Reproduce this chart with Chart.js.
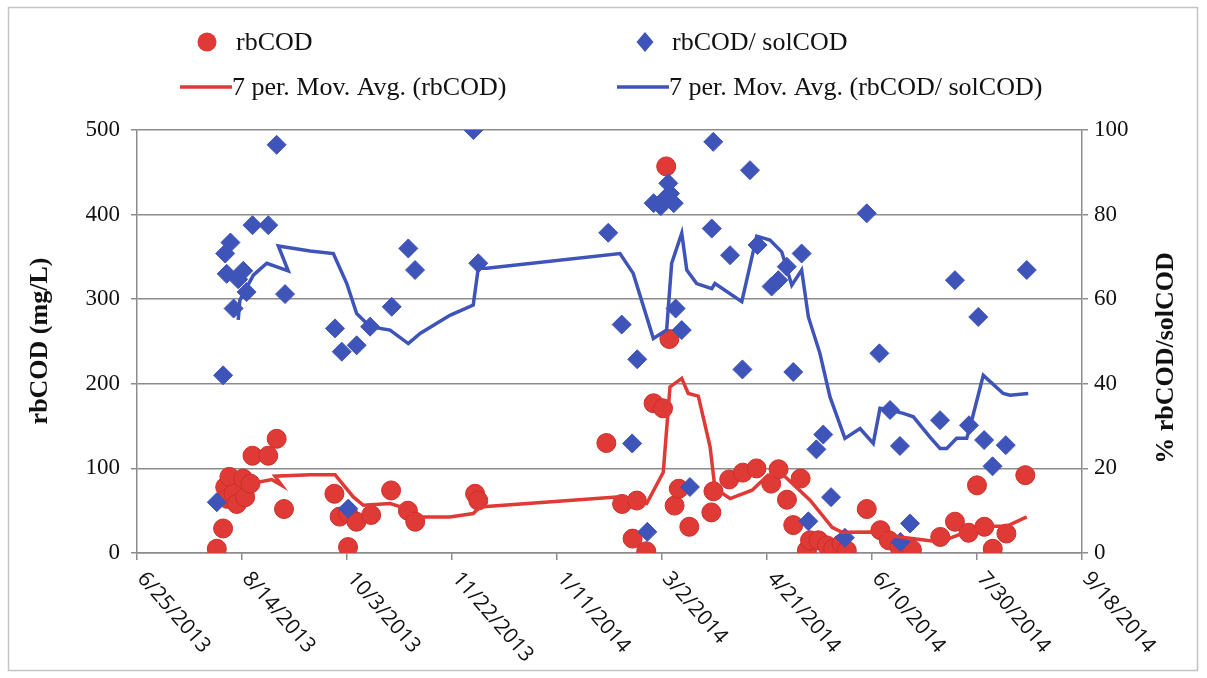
<!DOCTYPE html>
<html>
<head>
<meta charset="utf-8">
<script src="https://cdn.jsdelivr.net/npm/chart.js@4.4.0/dist/chart.umd.min.js"></script>
<style>
html, body { margin: 0; padding: 0; background: #fff; }
</style>
</head>
<body>
<canvas id="graph" width="1207" height="678"></canvas>
<script>
// days after 6/25/2013
var startDate = Date.UTC(2013, 5, 25);
var xTicks = [0, 50, 100, 150, 200, 250, 300, 350, 400, 450];

// rbCOD (mg/L)
var rbDays = [38, 41, 42, 43, 44, 46, 47.5, 50.5, 51.5, 54, 55, 62.5, 66.5, 70,
    94, 96.5, 100.5, 100.5, 104.5, 111.5, 121, 129, 132.5,
    161, 162.5,
    223.5, 231, 236, 238, 242.5, 246, 250.5, 252, 253.5, 256, 258, 263, 273.5, 274.5,
    282, 288.5, 295, 302, 305.5, 309.5, 312.5, 316,
    319, 320.5, 324.5, 328.5, 331.5, 335.5, 338,
    347.5, 354, 358, 363, 369, 382.5, 389.5, 396, 400, 403.5, 407.5, 414, 423];
var rbValues = [5, 29, 78, 64, 90, 70, 58, 88, 66, 82, 115, 115, 135, 52,
    70, 43, 47, 7, 37, 45, 74, 50, 37,
    70, 62,
    130, 58, 17, 62, 2, 177, 171, 457, 253, 56, 76, 31, 48, 73,
    87, 95, 100, 82, 99, 63, 33, 88,
    3, 15, 15, 9, 5, 11, 3,
    52, 27, 15, 7, 4, 19, 37, 24, 80, 31, 5, 23, 92];

// rbCOD/ solCOD (%)
var ratioDays = [38, 41, 42, 42.7, 44.5, 46, 48.2, 50.6, 52.2, 55, 62.5, 66.5, 70.5,
    94.3, 97.5, 100.6, 104.6, 111, 121.3, 129.2, 132.4,
    160.2, 162.5,
    224.4, 230.8, 235.8, 238.2, 243, 246, 249.4, 251.4, 253, 253.8, 255.6, 256.5, 259.4, 263.3,
    273.7, 274.4, 282.4, 288.3, 291.9, 295.5, 302.2, 305.4, 309.4, 312.5, 316.5,
    319.7, 323.5, 326.8, 330.5, 337.1, 347.5, 353.5, 358.6, 363.3, 363.5, 368.1,
    382.4, 389.5, 396.2, 400.6, 403.4, 407.4, 413.7, 423.7];
var ratioValues = [12, 42, 70.8, 66, 73.4, 57.8, 64.7, 66.7, 61.7, 77.5, 77.5, 96.5, 61.2,
    53.1, 47.6, 10.5, 49.1, 53.5, 58.2, 72, 66.9,
    100, 68.5,
    75.7, 54, 25.9, 45.8, 5, 82.7, 82, 83.8, 87.4, 85, 82.7, 57.8, 52.7, 15.6,
    76.7, 97.2, 70.4, 43.4, 90.5, 72.8, 63, 64.5, 67.7, 42.8, 70.8,
    7.5, 24.5, 28, 13.2, 3.6, 80.3, 47.2, 33.8, 25.3, 2.6, 7,
    31.4, 64.5, 30.2, 55.8, 26.7, 20.5, 25.5, 66.9];

// 7 per. Mov. Avg. (rbCOD)
var rbAvgDays = [50.5, 55.2, 64.1, 68.9, 65.7, 82.4, 94.3, 103, 107.8, 120.5, 126, 132.4, 149,
    160.1, 163.3, 228.4, 242.7, 250.6, 253.8, 259.4, 262.5, 267.3, 272.9, 275.2, 282.4,
    292.9, 300.5, 307.4, 320.5, 331, 335.7, 350.6, 363.3, 382.4, 391.9, 404.6, 414.1, 423.7];
var rbAvgValues = [81.3, 82.5, 86.9, 80.1, 90.8, 92.5, 92.5, 66.3, 56.4, 58.5, 54.4, 42.6, 42.6,
    46.6, 54.4, 66.3, 58.5, 95.5, 196.4, 206.4, 188.6, 185.4, 125.4, 76.6, 64.4,
    74.2, 92, 93.1, 62.4, 30.4, 24.5, 24.9, 18.9, 13, 22.1, 31.6, 31.6, 42.6];

// 7 per. Mov. Avg. (rbCOD/ solCOD)
var ratioAvgDays = [48.2, 49, 55.4, 61.8, 72, 67.3, 82.4, 93.5, 99.9, 104.6, 111, 120.5, 129.2,
    134.8, 149, 160.1, 162.5, 166.5, 230, 236.3, 245.9, 252.2, 254.6, 259.4, 261.8, 266.5,
    273.7, 275.2, 288, 295.1, 301.4, 307, 311.8, 316.5, 319.7, 325.2, 330, 337.1, 344.3,
    350.6, 353.8, 358.6, 364.9, 369.7, 377.6, 382.4, 385.6, 390.3, 395.1, 397.5, 403,
    412.5, 415.7, 424.4];
var ratioAvgValues = [55.1, 59.8, 65.7, 68.5, 66.7, 72.6, 71.4, 70.8, 63.7, 56.6, 53.5, 52.7, 49.5,
    51.9, 56.2, 58.6, 67.3, 67.3, 70.8, 66.1, 50.7, 52.7, 68.5, 75.6, 66.9, 63.7,
    62.5, 63.7, 59.4, 74.9, 74, 71.2, 63.3, 66.9, 55.8, 47.2, 36.9, 27.1, 29.4,
    25.9, 34.2, 33.8, 33, 32.2, 27.4, 24.7, 24.7, 27.1, 27.1, 31.4, 42,
    37.7, 37.3, 37.7];

var RED = '#df3a35';
var BLUE = '#3f54b8';
var GRID = '#8c8c8c';

function toPoints(xs, ys) {
    return xs.map((x, i) => ({ x: x, y: ys[i] }));
}

function dayLabel(v) {
    var d = new Date(startDate + v * 864e5);
    return (d.getUTCMonth() + 1) + '/' + d.getUTCDate() + '/' + d.getUTCFullYear();
}

var decorations = {
    id: 'decorations',
    afterDraw(chart) {
        var ctx = chart.ctx;
        ctx.save();

        // рамка
        ctx.strokeStyle = '#c4c4c4';
        ctx.lineWidth = 1.5;
        ctx.strokeRect(8.5, 7.5, 1189, 663);

        // легенда
        ctx.fillStyle = '#111';
        ctx.font = '26px "Liberation Serif"';
        ctx.textBaseline = 'middle';
        ctx.textAlign = 'left';

        ctx.beginPath();
        ctx.arc(207, 42, 9.5, 0, Math.PI * 2);
        ctx.fillStyle = RED;
        ctx.fill();
        ctx.fillStyle = '#111';
        ctx.fillText('rbCOD', 236, 43);

        ctx.beginPath();
        ctx.moveTo(645, 32); ctx.lineTo(653.5, 42); ctx.lineTo(645, 52); ctx.lineTo(636.5, 42);
        ctx.closePath();
        ctx.fillStyle = BLUE;
        ctx.fill();
        ctx.fillStyle = '#111';
        ctx.fillText('rbCOD/ solCOD', 672, 43);

        ctx.lineWidth = 3.5;
        ctx.strokeStyle = RED;
        ctx.beginPath(); ctx.moveTo(180, 87); ctx.lineTo(232, 87); ctx.stroke();
        ctx.fillText('7 per. Mov. Avg. (rbCOD)', 232, 88);

        ctx.strokeStyle = BLUE;
        ctx.beginPath(); ctx.moveTo(617, 87); ctx.lineTo(669, 87); ctx.stroke();
        ctx.fillText('7 per. Mov. Avg. (rbCOD/ solCOD)', 669, 88);

        // подписи осей
        ctx.font = 'bold 26px "Liberation Serif"';
        ctx.textAlign = 'center';
        ctx.save();
        ctx.translate(40, 341);
        ctx.rotate(-Math.PI / 2);
        ctx.fillText('rbCOD (mg/L)', 0, 0);
        ctx.restore();

        ctx.save();
        ctx.translate(1166, 358);
        ctx.rotate(-Math.PI / 2);
        ctx.fillText('% rbCOD/solCOD', 0, 0);
        ctx.restore();

        // подписи дат
        var xs = chart.scales.x;
        ctx.font = '21px "Open Sans"';
        ctx.textAlign = 'left';
        xTicks.forEach(v => {
            var px = xs.getPixelForValue(v);
            ctx.save();
            ctx.translate(px + 4, 575);
            ctx.rotate(49 * Math.PI / 180);
            ctx.fillText(dayLabel(v), 0, 0);
            ctx.restore();
        });

        ctx.restore();
    }
};

var tickFont = { family: 'Liberation Serif', size: 23 };

new Chart(document.getElementById('graph').getContext('2d'), {
    data: {
        datasets: [
            {
                type: 'line', label: '7 per. Mov. Avg. (rbCOD/ solCOD)', yAxisID: 'y2',
                data: toPoints(ratioAvgDays, ratioAvgValues),
                borderColor: BLUE, borderWidth: 3.5, pointRadius: 0, tension: 0, fill: false
            },
            {
                type: 'line', label: '7 per. Mov. Avg. (rbCOD)', yAxisID: 'y',
                data: toPoints(rbAvgDays, rbAvgValues),
                borderColor: RED, borderWidth: 3.5, pointRadius: 0, tension: 0, fill: false
            },
            {
                type: 'scatter', label: 'rbCOD/ solCOD', yAxisID: 'y2',
                data: toPoints(ratioDays, ratioValues),
                pointStyle: 'rectRot', pointRadius: 9.5, backgroundColor: BLUE, borderColor: BLUE, borderWidth: 1
            },
            {
                type: 'scatter', label: 'rbCOD', yAxisID: 'y',
                data: toPoints(rbDays, rbValues),
                pointStyle: 'circle', pointRadius: 9.5, backgroundColor: RED, borderColor: '#cc2f2b', borderWidth: 1
            }
        ]
    },
    options: {
        responsive: false,
        animation: false,
        layout: { padding: { top: 130, left: 0, right: 0, bottom: 0 } },
        plugins: { legend: { display: false }, tooltip: { enabled: false } },
        scales: {
            x: {
                type: 'linear', min: 0, max: 450,
                ticks: { stepSize: 50, display: false },
                grid: { drawOnChartArea: false, drawTicks: true, tickLength: 7, color: GRID, lineWidth: 1.5 },
                border: { color: GRID, width: 1.5 },
                afterFit: s => { s.height = 125; }
            },
            y: {
                position: 'left', min: 0, max: 500,
                ticks: { stepSize: 100, padding: 11, color: '#111', font: tickFont },
                grid: { color: GRID, lineWidth: 1.5, tickLength: 6 },
                border: { color: GRID, width: 1.5 },
                afterFit: s => { s.width = 137; }
            },
            y2: {
                position: 'right', min: 0, max: 100,
                ticks: { stepSize: 20, padding: 6, color: '#111', font: tickFont },
                grid: { drawOnChartArea: false, color: GRID, lineWidth: 1.5, tickLength: 6 },
                border: { color: GRID, width: 1.5 },
                afterFit: s => { s.width = 125; }
            }
        }
    },
    plugins: [decorations]
});
</script>
</body>
</html>
